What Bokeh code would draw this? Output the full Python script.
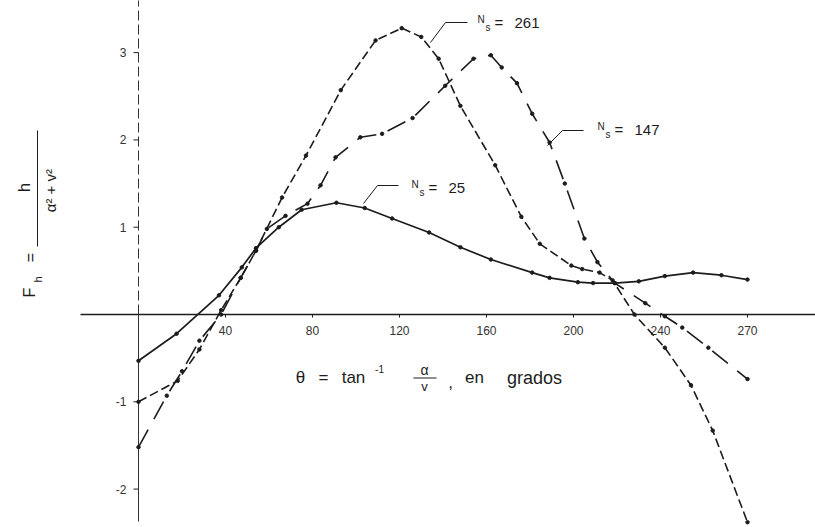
import numpy as np
from bokeh.plotting import figure
from bokeh.models import Range1d, Label
from bokeh.core.properties import value
from bokeh.embed import file_html
from bokeh.resources import INLINE

# ---------------- data (theta in degrees, F_h) ----------------
theta_25 = [0, 17.5, 37, 47.5, 54, 64.5, 75, 91, 104, 116.6, 133.6, 148, 162, 181, 189, 202, 209, 219, 230, 242, 255, 268, 280]
fh_25 = [-0.53, -0.22, 0.22, 0.54, 0.76, 1.0, 1.2, 1.28, 1.22, 1.10, 0.94, 0.77, 0.63, 0.48, 0.42, 0.37, 0.36, 0.36, 0.38, 0.44, 0.48, 0.45, 0.40]

theta_261 = [0, 18, 28, 38, 47, 54, 66, 77, 93, 109, 121, 130, 138, 148, 164, 176, 184.5, 199, 204, 212, 218, 228, 242, 254, 264, 280]
fh_261 = [-1.0, -0.76, -0.4, 0.05, 0.42, 0.73, 1.34, 1.82, 2.57, 3.14, 3.28, 3.18, 2.93, 2.39, 1.71, 1.12, 0.81, 0.56, 0.52, 0.48, 0.39, 0.0, -0.38, -0.81, -1.33, -2.38]

theta_147 = [0, 13, 20, 28, 38, 47, 54, 59, 67.6, 77.7, 83.7, 90.6, 102, 112, 126, 141, 154, 162, 167, 174, 181, 189, 196, 205, 211, 219, 233, 242, 250, 262, 280]
fh_147 = [-1.52, -0.93, -0.65, -0.3, 0.0, 0.42, 0.73, 0.98, 1.13, 1.27, 1.48, 1.8, 2.03, 2.07, 2.25, 2.62, 2.93, 2.97, 2.83, 2.65, 2.3, 1.97, 1.5, 0.87, 0.6, 0.36, 0.13, -0.02, -0.15, -0.38, -0.74]

x_ticks = [40, 80, 120, 160, 200, 240, 280]
x_tick_labels = ["40", "80", "120", "160", "200", "240", "270"]
y_ticks = [-2, -1, 1, 2, 3]
y_tick_labels = ["-2", "-1", "1", "2", "3"]

# ---------------- figure ----------------
W, H = 815, 527
X0, X1 = -63.45, 311.26
Y0, Y1 = -2.44, 3.597
px = W / (X1 - X0)   # pixels per degree
py = H / (Y1 - Y0)   # pixels per unit F


def X(page_x):
    return X0 + page_x / px


def Y(page_y):
    return Y1 - page_y / py


FONT = "Liberation Sans"
INK = "#1c1c1c"

p = figure(width=W, height=H, x_range=Range1d(X0, X1), y_range=Range1d(Y0, Y1),
           output_backend="svg", toolbar_location=None,
           x_axis_location=None, y_axis_location=None, min_border=0)
p.outline_line_color = None
p.grid.visible = False
p.background_fill_color = "white"

# axes lines
p.line([X(80), X1 + 5], [0, 0], line_color=INK, line_width=1.3)
p.line([0, 0], [0, Y1 + 1], line_color="#333333", line_width=1, line_dash="10 4")
p.line([0, 0], [Y(521), 0], line_color="#333333", line_width=1)

# tick marks
p.segment(x0=x_ticks, y0=[0] * len(x_ticks), x1=x_ticks, y1=[-3 / py] * len(x_ticks),
          line_color=INK, line_width=1)
p.segment(x0=[0] * len(y_ticks), y0=y_ticks, x1=[-5 / px] * len(y_ticks), y1=y_ticks,
          line_color=INK, line_width=1)

# tick labels
p.text(x=x_ticks, y=[-16 / py] * len(x_ticks), text=x_tick_labels,
       text_font=value(FONT), text_font_size=value("12px"), text_color="#333333",
       text_align="center", text_baseline="middle")
p.text(x=[-12 / px] * len(y_ticks), y=y_ticks, text=y_tick_labels,
       text_font=value(FONT), text_font_size=value("12px"), text_color="#333333",
       text_align="right", text_baseline="middle")

# curves
p.line(theta_25, fh_25, line_color=INK, line_width=1.7)
p.scatter(theta_25, fh_25, size=3.5, color=INK)
p.line(theta_261, fh_261, line_color=INK, line_width=1.6, line_dash="9 4")
p.scatter(theta_261, fh_261, size=3.5, color=INK)
p.line(theta_147, fh_147, line_color=INK, line_width=1.6, line_dash="20 12")
p.scatter(theta_147, fh_147, size=3.5, color=INK)

# leader lines for curve labels
for pts in ([(430, 42), (445, 22), (467, 22)],
            [(547, 145), (562, 130), (583, 130)],
            [(363, 203), (377, 185), (398, 185)]):
    p.line([X(a) for a, b in pts], [Y(b) for a, b in pts], line_color=INK, line_width=1)


def lab(x, y, t, size, align="left", angle=0.0):
    p.add_layout(Label(x=X(x), y=Y(y), text=t, text_font=FONT, text_font_size=size,
                       text_color=INK, text_align=align, text_baseline="middle",
                       angle=angle, angle_units="rad"))


# curve labels N_s = ...
for (nx, ny, num) in ((477, 19, "261"), (597, 126, "147"), (411, 184, "25")):
    lab(nx, ny, "N", "10px")
    lab(nx + 8, ny + 8, "s", "10px")
    lab(nx + 17, ny + 3, "=", "15px")
    lab(nx + 37, ny + 3, num, "15px")

# x-axis title: theta = tan^-1 (alpha / v), en grados
lab(300, 377, "θ", "17px", "center")
lab(323, 377, "=", "17px", "center")
lab(353, 377, "tan", "17px", "center")
lab(379, 368, "-1", "10px", "center")
lab(424, 369, "α", "14px", "center")
p.line([X(413), X(436)], [Y(377.5), Y(377.5)], line_color=INK, line_width=1)
lab(424, 386, "v", "13px", "center")
lab(450, 381, ",", "17px", "center")
lab(474, 377, "en", "17px", "center")
lab(534, 377, "grados", "18px", "center")

# y-axis title: F_h = h / (alpha^2 + v^2), rotated
R = np.pi / 2
lab(29, 292, "F", "16px", "center", R)
lab(37, 279, "h", "11px", "center", R)
lab(30, 257, "=", "16px", "center", R)
lab(24, 187, "h", "17px", "center", R)
p.line([X(37), X(37)], [Y(130), Y(246)], line_color=INK, line_width=1)
lab(50, 186, "α²  +  v²", "15px", "center", R)

open("out.html", "w").write(file_html(p, INLINE))
